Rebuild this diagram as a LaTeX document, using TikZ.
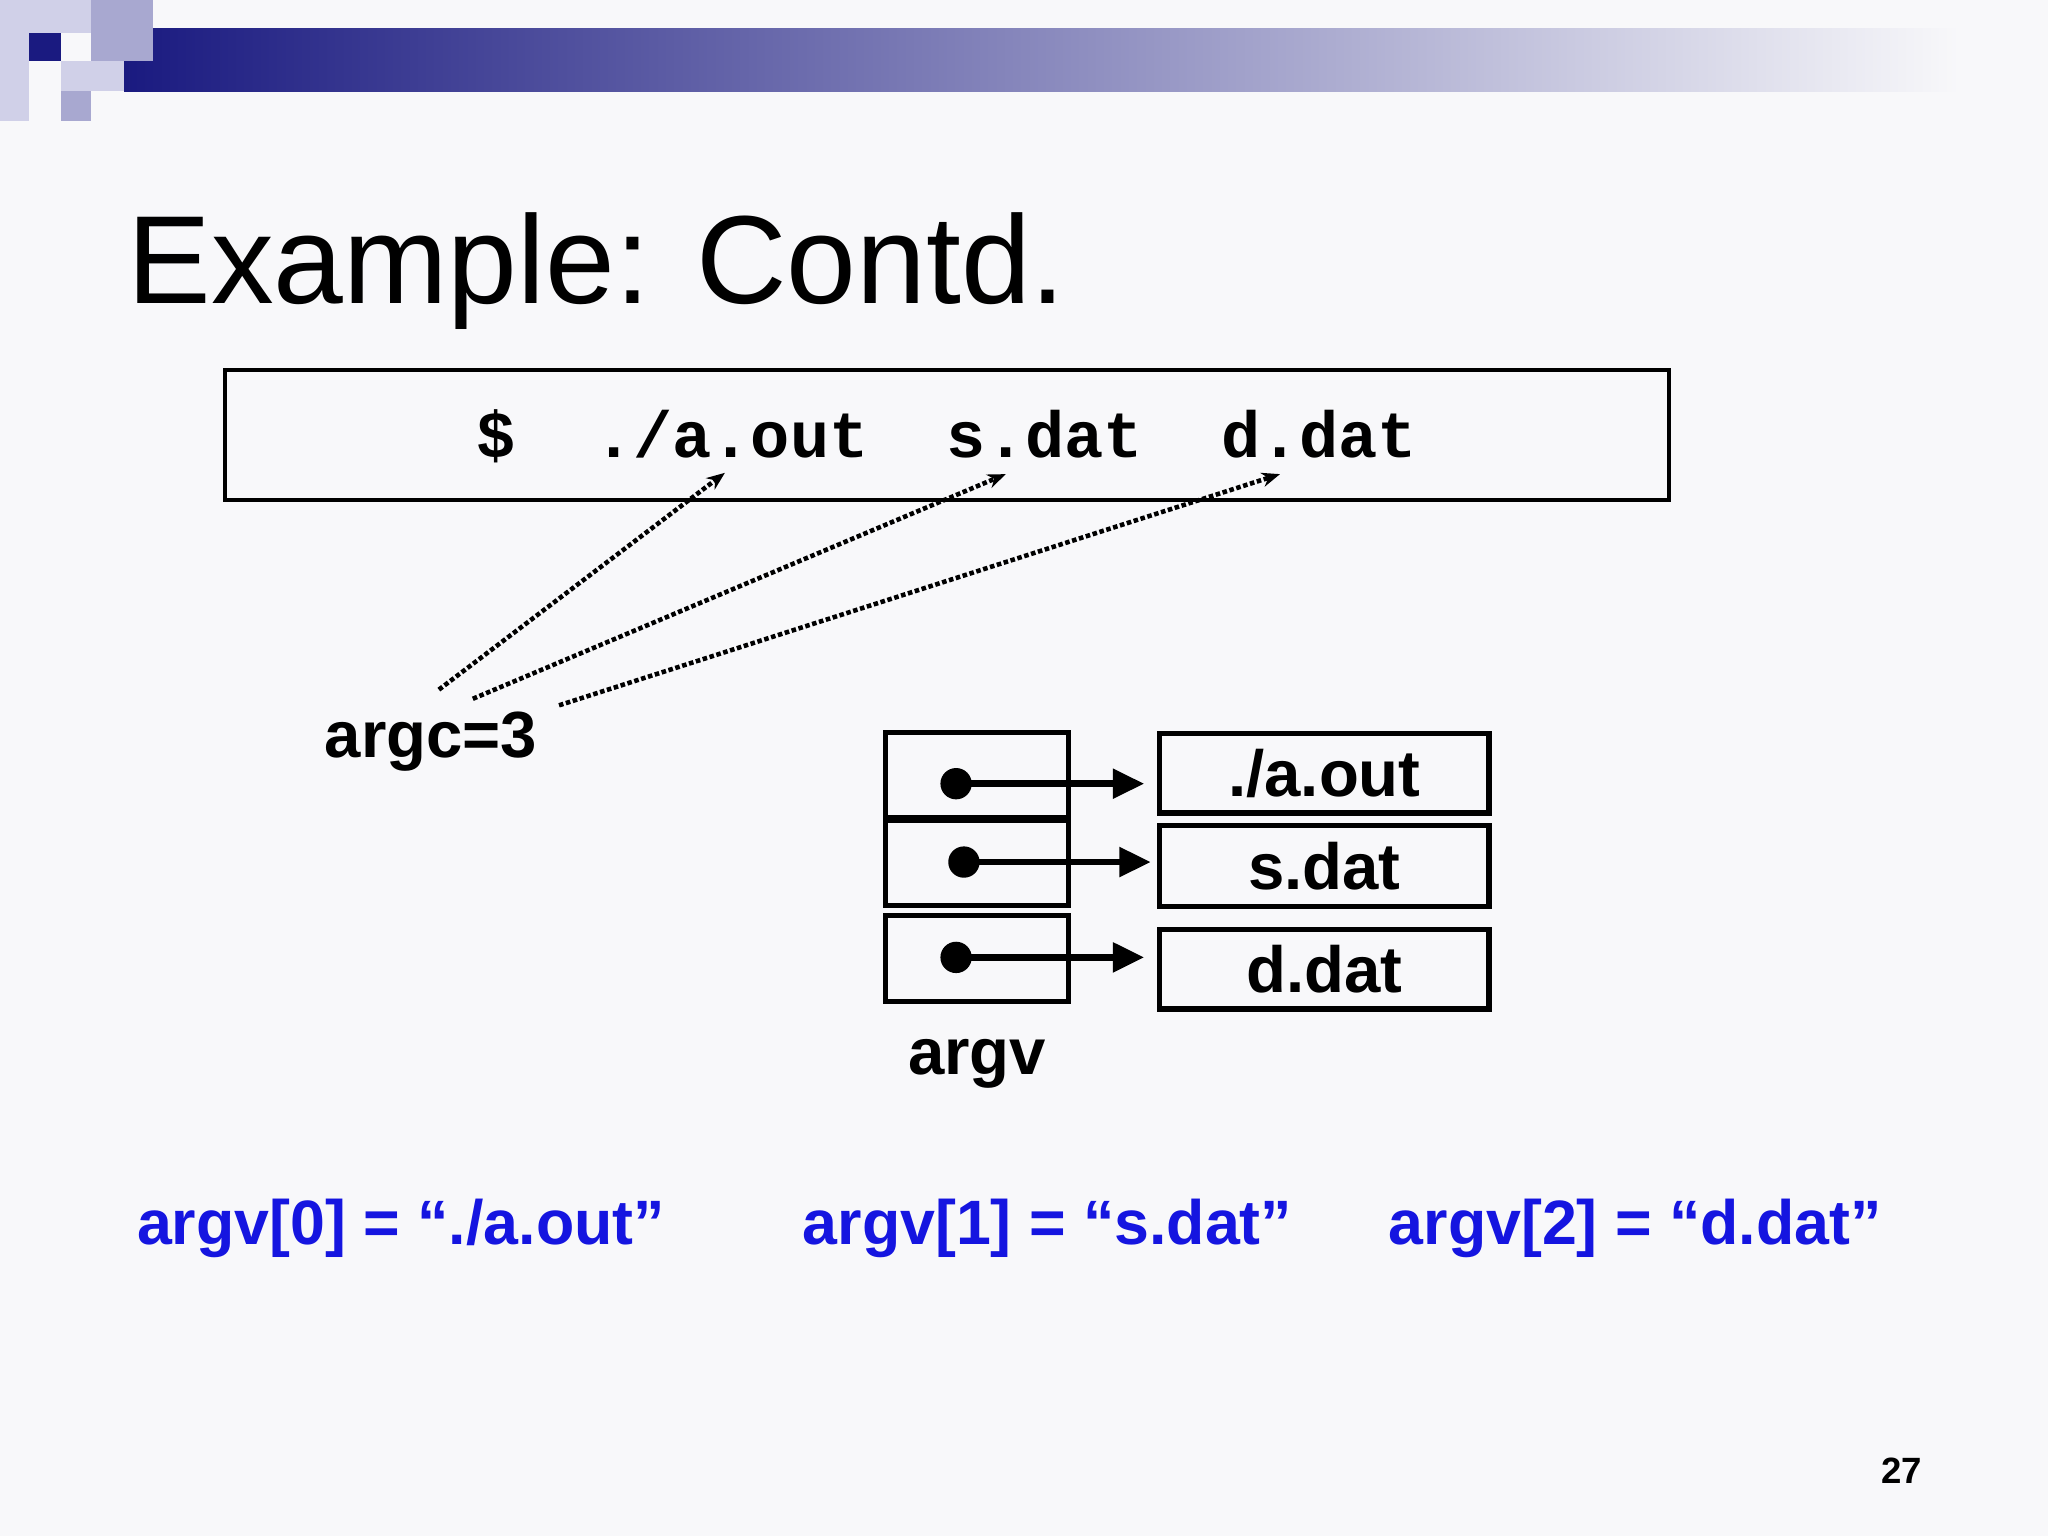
\documentclass[tikz,border=0pt]{standalone}
\usepackage{fontspec}
\setmainfont{Liberation Sans}
\setmonofont{Liberation Mono}
\usetikzlibrary{arrows.meta}
\definecolor{navy}{HTML}{1A1A80}
\definecolor{lav}{HTML}{A8A8D0}
\definecolor{lav2}{HTML}{D0D0E8}
\definecolor{bg}{HTML}{F8F8FA}
\definecolor{bl}{HTML}{1515E0}
\begin{document}
\begin{tikzpicture}[x=1pt,y=-1pt,
  cell/.style={draw,line width=4pt,fill=bg},
  lbl/.style={font=\fontsize{50}{50}\selectfont\bfseries},
  blu/.style={font=\fontsize{48}{48}\selectfont\bfseries,text=bl},
  ptr/.style={line width=5pt,-{Triangle[length=24pt,width=22pt]}},
  dot/.style={circle,fill=black,inner sep=0pt,minimum size=24pt},
  dots/.style={line width=3.5pt,dotted,-{Stealth[length=14pt,width=11pt]}}]
\useasboundingbox (0,0) rectangle (1568,1176);
\fill[bg] (0,0) rectangle (1568,1176);
\shade[left color=navy,right color=bg] (95,22) rectangle (1500,70);
\fill[lav2] (0,0) rectangle (22,93);
\fill[lav2] (22,0) rectangle (70,25);
\fill[lav] (70,0) rectangle (117,47);
\fill[navy] (22,25) rectangle (47,47);
\fill[lav2] (47,47) rectangle (95,70);
\fill[lav] (47,70) rectangle (70,93);
\node[anchor=base west,font=\fontsize{96}{96}\selectfont] (title) at (94,232) {Example: Contd.};
\node[draw,line width=3pt,fill=bg,minimum width=1106pt,minimum height=99pt,inner sep=0pt] (cmd) at (725,333) {};
\node[anchor=base,font=\fontsize{50}{50}\selectfont\ttfamily\bfseries] (cmdt) at (725,350) {\$~~./a.out~~s.dat~~d.dat};
\coordinate (t0) at (555,362);
\coordinate (t1) at (770,363);
\coordinate (t2) at (980,363);
\coordinate (f0) at (336,528);
\coordinate (f1) at (362,535);
\coordinate (f2) at (428,540);
\draw[dots] (f0) -- (t0);
\draw[dots] (f1) -- (t1);
\draw[dots] (f2) -- (t2);
\node[lbl,anchor=base] (argc) at (330,580) {argc=3};
\draw[cell] (678,561) rectangle (818,626);
\draw[cell] (678,628) rectangle (818,693);
\draw[cell] (678,701) rectangle (818,767);
\node[dot] (d0) at (732,600) {};
\node[dot] (d1) at (738,660) {};
\node[dot] (d2) at (732,733) {};
\node[cell,minimum width=252pt,minimum height=61pt,inner sep=0pt,lbl] (s0) at (1014,592) {./a.out};
\node[cell,minimum width=252pt,minimum height=62pt,inner sep=0pt,lbl] (s1) at (1014,663) {s.dat};
\node[cell,minimum width=252pt,minimum height=61pt,inner sep=0pt,lbl] (s2) at (1014,742) {d.dat};
\draw[ptr] (d0.center) -- (876,600);
\draw[ptr] (d1.center) -- (881,660);
\draw[ptr] (d2.center) -- (876,733);
\node[lbl,anchor=base] (argv) at (748,823) {argv};
\node[blu,anchor=base] (b0) at (307,953) {argv[0] = “./a.out”};
\node[blu,anchor=base] (b1) at (802,953) {argv[1] = “s.dat”};
\node[blu,anchor=base] (b2) at (1252,953) {argv[2] = “d.dat”};
\node[anchor=base,font=\fontsize{28}{28}\selectfont\bfseries] (pg) at (1456,1136) {27};
\end{tikzpicture}
\end{document}
